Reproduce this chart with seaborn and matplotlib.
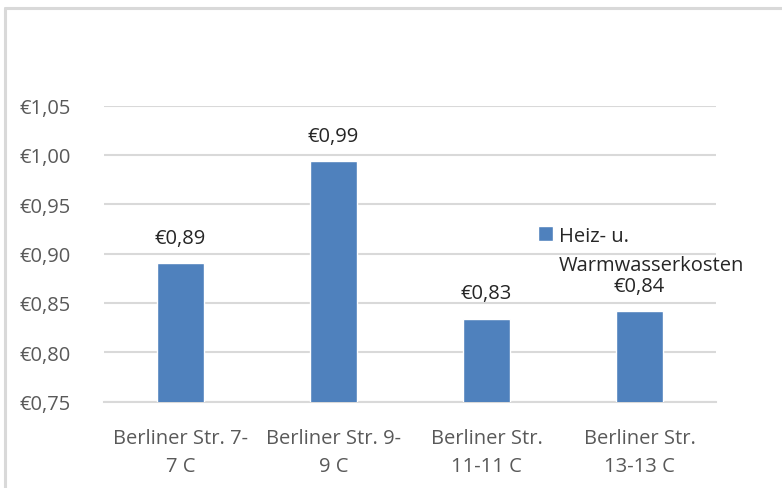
import pandas as pd
import matplotlib.pyplot as plt
import seaborn as sns
from matplotlib.lines import Line2D

# data
categories = ["Berliner Str. 7-\n7 C", "Berliner Str. 9-\n9 C",
              "Berliner Str.\n11-11 C", "Berliner Str.\n13-13 C"]
costs = [0.890, 0.994, 0.834, 0.842]
cost_labels = ["€0,89", "€0,99", "€0,83", "€0,84"]
y_ticks = [0.75, 0.80, 0.85, 0.90, 0.95, 1.00, 1.05]
series_name = "Heiz- u.\nWarmwasserkosten"

df = pd.DataFrame({"Objekt": categories, "Kosten": costs})

sns.set_theme(style="white")
plt.rcParams['font.family'] = ['Open Sans', 'DejaVu Sans']

fig = plt.figure(figsize=(7.82, 4.89), dpi=100)
ax = fig.add_axes([0.133, 0.1765, 0.7826, 0.6057])

sns.barplot(data=df, x="Objekt", y="Kosten", color="#4f81bd",
            width=0.31, saturation=1, ax=ax, label=series_name, zorder=3)

# data labels above the bars
for i, (v, txt) in enumerate(zip(costs, cost_labels)):
    ax.annotate(txt, (i, v), xytext=(0, 11), textcoords="offset points",
                ha="center", va="bottom", fontsize=14.5, color="#262626")

ax.set_ylim(0.75, 1.05)
ax.set_xlim(-0.5, 3.5)
ax.set_yticks(y_ticks)
ax.set_yticklabels(["€" + f"{t:.2f}".replace(".", ",") for t in y_ticks])
ax.yaxis.grid(True, color="#d9d9d9", linewidth=1.5, zorder=0)
ax.set_xlabel("")
ax.set_ylabel("")
for s in ["left", "right", "top"]:
    ax.spines[s].set_visible(False)
ax.spines["bottom"].set_color("#d9d9d9")
ax.spines["bottom"].set_linewidth(1.5)
ax.tick_params(axis="y", length=0, pad=24, labelsize=14.5, labelcolor="#595959")
ax.tick_params(axis="x", length=0, pad=19, labelsize=14.5, labelcolor="#595959")
for lbl in ax.get_xticklabels():
    lbl.set_linespacing(1.55)

leg = ax.legend(loc="upper left", bbox_to_anchor=(0.709, 0.592), frameon=False,
                fontsize=14.5, handlelength=0.75, handleheight=0.75,
                handletextpad=0.3, borderaxespad=0, borderpad=0)
for t in leg.get_texts():
    t.set_color("#262626")
    t.set_linespacing(1.6)
# square next to the first line of the wrapped label, as Excel does
for col in leg._legend_handle_box.get_children():
    for row in col.get_children():
        row.align = "top"

# chart frame
fig.add_artist(Line2D([5 / 782, 1], [1 - 9 / 489, 1 - 9 / 489],
                      color="#d9d9d9", linewidth=2.2))
fig.add_artist(Line2D([5 / 782, 5 / 782], [0, 1 - 9 / 489],
                      color="#d9d9d9", linewidth=2.2))

fig.savefig("out.png", dpi=100)
